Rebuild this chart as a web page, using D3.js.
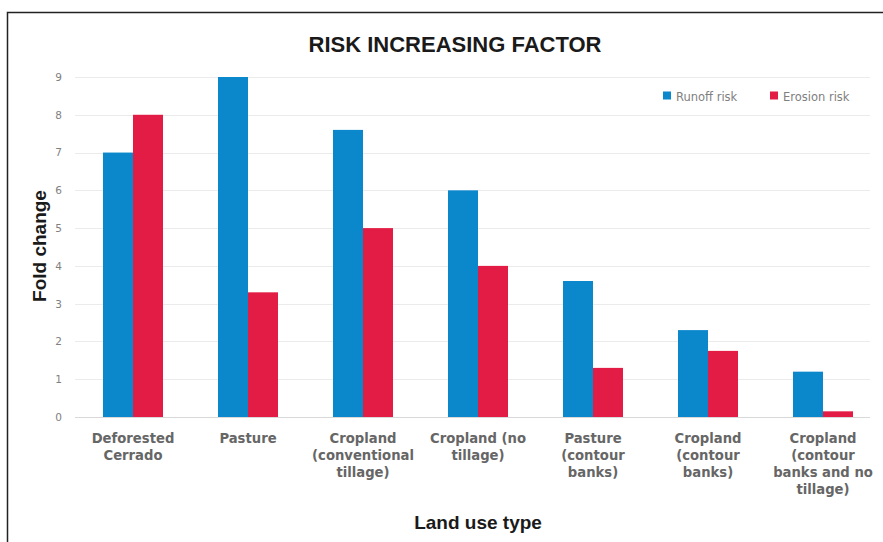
<!DOCTYPE html>
<html><head><meta charset="utf-8">
<script src="https://cdn.jsdelivr.net/npm/d3@7"></script>
<style>body{margin:0;background:#fff}svg{display:block}</style>
</head><body>
<svg id="c" width="883" height="542"></svg>
<script>
const categories = [
  ["Deforested","Cerrado"],
  ["Pasture"],
  ["Cropland","(conventional","tillage)"],
  ["Cropland (no","tillage)"],
  ["Pasture","(contour","banks)"],
  ["Cropland","(contour","banks)"],
  ["Cropland","(contour","banks and no","tillage)"]
];
const seriesNames = ["Runoff risk","Erosion risk"];
const runoff = [7, 9, 7.6, 6, 3.6, 2.3, 1.2];
const erosion = [8, 3.3, 5, 4, 1.3, 1.75, 0.15];
const yTicks = [0,1,2,3,4,5,6,7,8,9];
const colors = ["#0b87cc","#e31c45"];

const svg = d3.select("#c");
const keys = categories.map((c,i)=>i);
const x = d3.scaleBand().domain(keys).range([75.5,880.5]).paddingInner(0).paddingOuter(0);
const y = d3.scaleLinear().domain([0,9]).range([417,77]);
const xs = d3.scaleBand().domain(seriesNames).range([0,60]);

// border
svg.append("path").attr("d","M7.5,545 V12.5 H890").attr("fill","none").attr("stroke","#222").attr("stroke-width",1.5);

// gridlines
svg.append("g").selectAll("line").data(yTicks).join("line")
  .attr("x1",75).attr("x2",870)
  .attr("y1",d=>Math.round(y(d))+0.5).attr("y2",d=>Math.round(y(d))+0.5)
  .attr("stroke",d=>d===0?"#d9d9d9":"#ebebeb").attr("stroke-width",1);

// y axis labels
const yAxis = d3.axisLeft(y).tickValues(yTicks).tickSize(0).tickPadding(0);
const gy = svg.append("g").attr("transform","translate(62,0)").call(yAxis);
gy.select(".domain").remove();
gy.selectAll("text").attr("font-family","DejaVu Sans, sans-serif").attr("font-size",10.5).attr("fill","#808080");

// bars
const data = [runoff, erosion];
const groups = svg.append("g").selectAll("g").data(keys).join("g")
  .attr("transform",d=>`translate(${x(d)+x.bandwidth()/2-30},0)`);
groups.selectAll("rect").data(i=>seriesNames.map((s,j)=>({s,j,v:data[j][i]}))).join("rect")
  .attr("x",d=>xs(d.s)).attr("width",xs.bandwidth())
  .attr("y",d=>y(d.v)).attr("height",d=>y(0)-y(d.v))
  .attr("fill",d=>colors[d.j]);

// x labels
const xl = svg.append("g").selectAll("text").data(keys).join("text")
  .attr("x",d=>x(d)+x.bandwidth()/2).attr("y",443)
  .attr("text-anchor","middle").attr("font-family","DejaVu Sans, sans-serif")
  .attr("font-weight","bold").attr("font-size",13.2).attr("fill","#666666");
xl.selectAll("tspan").data(d=>categories[d]).join("tspan")
  .attr("x",function(){return this.parentNode.getAttribute("x");})
  .attr("dy",(d,i)=>i===0?0:17).text(d=>d);

// title
svg.append("text").attr("x",455).attr("y",52).attr("text-anchor","middle")
  .attr("font-family","Liberation Sans, Arial, sans-serif").attr("font-weight","bold")
  .attr("font-size",22).attr("fill","#1a1a1a").text("RISK INCREASING FACTOR");

// axis titles
svg.append("text").attr("transform","translate(46,246) rotate(-90)").attr("text-anchor","middle")
  .attr("font-family","Liberation Sans, Arial, sans-serif").attr("font-weight","bold")
  .attr("font-size",19).attr("fill","#1a1a1a").text("Fold change");
svg.append("text").attr("x",478).attr("y",529).attr("text-anchor","middle")
  .attr("font-family","Liberation Sans, Arial, sans-serif").attr("font-weight","bold")
  .attr("font-size",19).attr("fill","#1a1a1a").text("Land use type");

// legend
const legX = [663, 770];
const lg = svg.append("g").selectAll("g").data(seriesNames).join("g")
  .attr("transform",(d,i)=>`translate(${legX[i]},96)`);
lg.append("rect").attr("x",0).attr("y",-4.5).attr("width",8).attr("height",8).attr("fill",(d,i)=>colors[i]);
lg.append("text").attr("x",13).attr("y",4.5).attr("font-family","DejaVu Sans, sans-serif")
  .attr("font-size",11.5).attr("fill","#808080").text(d=>d);
</script>
</body></html>
